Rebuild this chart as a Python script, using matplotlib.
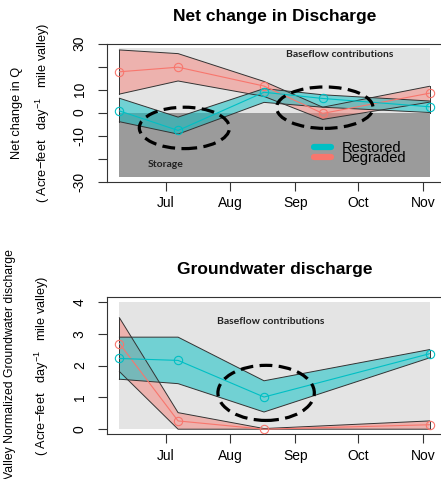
import numpy as np
import matplotlib
matplotlib.use("Agg")
import matplotlib.pyplot as plt
import matplotlib.dates as mdates
from matplotlib.patches import Ellipse
from matplotlib.lines import Line2D
from datetime import datetime

plt.rcParams['font.family'] = ['Liberation Sans', 'DejaVu Sans']
plt.rcParams['mathtext.fontset'] = 'custom'
plt.rcParams['mathtext.rm'] = 'Liberation Sans'
plt.rcParams['mathtext.it'] = 'Liberation Sans:italic'

###data
dates_q = ['2017-06-09', '2017-07-07', '2017-08-17', '2017-09-14', '2017-11-04']
rest_q = [0.7, -7.8, 8.8, 6.1, 2.5]
rest_q_lo = [-4.0, -9.4, 4.4, 2.3, 0.0]
rest_q_hi = [6.2, -2.0, 10.4, 7.7, 5.0]
degr_q = [17.7, 19.7, 11.5, -0.4, 8.4]
degr_q_lo = [8.0, 13.7, 7.0, -3.0, 4.5]
degr_q_hi = [27.2, 25.6, 13.5, 2.3, 11.4]

dates_gw = ['2017-06-09', '2017-07-07', '2017-08-17', '2017-11-04']
rest_gw = [2.22, 2.16, 1.01, 2.37]
rest_gw_lo = [1.57, 1.43, 0.54, 2.24]
rest_gw_hi = [2.89, 2.89, 1.52, 2.50]
degr_gw = [2.69, 0.26, 0.0, 0.14]
degr_gw_lo = [1.81, 0.0, 0.0, 0.0]
degr_gw_hi = [3.50, 0.52, 0.02, 0.26]

#shaded zones (baseflow / storage)
zone_q = [-28, 0, 28]
zone_gw = [0, 4]

month_ticks = ['2017-07-01', '2017-08-01', '2017-09-01', '2017-10-01', '2017-11-01']
month_labels = ['Jul', 'Aug', 'Sep', 'Oct', 'Nov']
yticks_q = [-30, -20, -10, 0, 10, 20, 30]
ylabels_q = ['-30', '', '-10', '0', '10', '', '30']
yticks_gw = [0, 1, 2, 3, 4]
ylabels_gw = ['0', '1', '2', '3', '4']

#dashed ellipses: (center date, center y, width in days, height)
ell_q = [('2017-07-10', -6.7, 43, 18), ('2017-09-15', 2.1, 46, 18)]
ell_gw = [('2017-08-18', 1.14, 46, 1.73)]

col_rest = '#00BFC4'
col_degr = '#F8766D'

def todate(lst):
    return mdates.date2num([datetime.strptime(d, '%Y-%m-%d') for d in lst])

def panel(ax, x, series, zones, ylim, yticks, ylabels, ells):
    x = todate(x)
    if len(zones) == 3:
        ax.fill_between([x[0], x[-1]], zones[1], zones[2], color='#E4E4E4', lw=0, zorder=0)
        ax.fill_between([x[0], x[-1]], zones[0], zones[1], color='#9B9B9B', lw=0, zorder=0)
    else:
        ax.fill_between([x[0], x[-1]], zones[0], zones[1], color='#E4E4E4', lw=0, zorder=0)
    for mid, lo, hi, col, a in series:
        ax.fill_between(x, lo, hi, facecolor=col, alpha=a, edgecolor='none', zorder=1)
        ax.plot(x, lo, color='#333333', lw=0.7, zorder=2)
        ax.plot(x, hi, color='#333333', lw=0.7, zorder=2)
        ax.plot([x[0], x[0]], [lo[0], hi[0]], color='#333333', lw=0.7, zorder=2)
        ax.plot([x[-1], x[-1]], [lo[-1], hi[-1]], color='#333333', lw=0.7, zorder=2)
        ax.plot(x, mid, color=col, lw=0.8, marker='o', ms=6, mfc='none', mew=0.8, zorder=3)
    for d, yc, w, h in ells:
        e = Ellipse((todate([d])[0], yc), w, h, fill=False, ec='black', lw=2.3,
                    linestyle=(0, (4, 2)), zorder=4)
        ax.add_patch(e)
    span = x[-1] - x[0]
    ax.set_xlim(x[0] - 0.04 * span, x[-1] + 0.04 * span)
    ax.set_ylim(ylim)
    ax.set_xticks(todate(month_ticks))
    ax.set_xticklabels(month_labels, fontsize=10)
    ax.set_yticks(yticks)
    ax.set_yticklabels(ylabels, fontsize=10, rotation=90, va='center')
    ax.tick_params(length=6.5, width=0.8, color='#333333')
    ax.tick_params(axis='x', pad=4)
    ax.tick_params(axis='y', pad=8)
    for s in ax.spines.values():
        s.set_color('#333333')
        s.set_linewidth(0.8)

fig = plt.figure(figsize=(4.41, 4.79), dpi=100)
ax1 = fig.add_axes([107 / 441, 1 - 181.5 / 479, 335 / 441, 138 / 479])
ax2 = fig.add_axes([107 / 441, 1 - 434.3 / 479, 335 / 441, 137.6 / 479])

panel(ax1, dates_q,
      [(degr_q, degr_q_lo, degr_q_hi, col_degr, 0.45),
       (rest_q, rest_q_lo, rest_q_hi, col_rest, 0.5)],
      zone_q, (-30, 30), yticks_q, ylabels_q, ell_q)
panel(ax2, dates_gw,
      [(degr_gw, degr_gw_lo, degr_gw_hi, col_degr, 0.45),
       (rest_gw, rest_gw_lo, rest_gw_hi, col_rest, 0.5)],
      zone_gw, (-0.16, 4.16), yticks_gw, ylabels_gw, ell_gw)

ax1.set_title('Net change in Discharge', fontsize=12.5, fontweight='bold', pad=16)
ax2.set_title('Groundwater discharge', fontsize=12.5, fontweight='bold', pad=16)

lab_font = dict(family=['Lato', 'DejaVu Sans'], fontweight='bold', fontsize=7.5, color='#222222')
ax1.text(todate(['2017-09-22'])[0], 25.4, 'Baseflow contributions', ha='center', va='center', **lab_font)
ax1.text(todate(['2017-07-01'])[0], -22.6, 'Storage', ha='center', va='center', **lab_font)
ax2.text(todate(['2017-08-20'])[0], 3.38, 'Baseflow contributions', ha='center', va='center', **lab_font)

handles = [Line2D([], [], color=col_rest, lw=4.5, solid_capstyle='round'),
           Line2D([], [], color=col_degr, lw=4.5, solid_capstyle='round')]
ax1.legend(handles, ['Restored', 'Degraded'], loc='upper left', bbox_to_anchor=(0.618, 0.29),
           frameon=False, fontsize=10.5, handlelength=1.15, handletextpad=0.75,
           labelspacing=-0.3, borderpad=0, borderaxespad=0)

unit = '( Acre$-$feet   day$^{-1}$   mile valley)'
fig.text(16.7 / 441, 1 - 112.5 / 479, 'Net change in Q', rotation=90, ha='center', va='center', fontsize=9.2)
fig.text(42.5 / 441, 1 - 112.5 / 479, unit, rotation=90, ha='center', va='center', fontsize=9.2)
fig.text(10 / 441, 1 - 364 / 479, 'Valley Normalized Groundwater discharge', rotation=90,
         ha='center', va='center', fontsize=8.8)
fig.text(42 / 441, 1 - 365.5 / 479, unit, rotation=90, ha='center', va='center', fontsize=9.2)

fig.savefig('out.png', dpi=100)
